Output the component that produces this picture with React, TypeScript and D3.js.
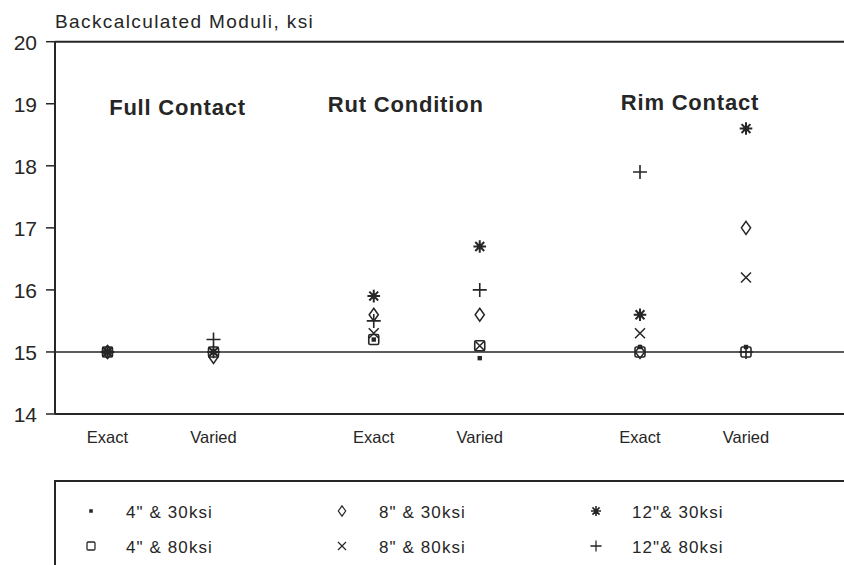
import React from "react";
import * as d3 from "d3";

const groups = ["Full Contact", "Rut Condition", "Rim Contact"];
const conditions = ["Exact", "Varied"];
const yTicks = [14, 15, 16, 17, 18, 19, 20];
const yTitle = "Backcalculated Moduli, ksi";

// values per (group, condition): FC-Exact, FC-Varied, Rut-Exact, Rut-Varied, Rim-Exact, Rim-Varied
const s4_30 = [15.0, 15.0, 15.2, 14.9, 15.08, 15.08];
const s4_80 = [15.0, 15.0, 15.2, 15.1, 15.0, 15.0];
const s8_30 = [15.0, 14.92, 15.6, 15.6, 15.0, 17.0];
const s8_80 = [15.0, 15.0, 15.3, 15.1, 15.3, 16.2];
const s12_30 = [15.0, 15.0, 15.9, 16.7, 15.6, 18.6];
const s12_80 = [15.0, 15.2, 15.5, 16.0, 17.9, 15.0];

const seriesNames = ['4" & 30ksi', '4" & 80ksi', '8" & 30ksi', '8" & 80ksi', '12"& 30ksi', '12"& 80ksi'];
const seriesShapes = ["dot", "square", "diamond", "cross", "asterisk", "plus"];
const seriesValues = [s4_30, s4_80, s8_30, s8_80, s12_30, s12_80];

const INK = "#262626";
const FONT = "'Liberation Sans', Arial, Helvetica, sans-serif";

function Marker({ shape, x, y, s = 1 }: { shape: string; x: number; y: number; s?: number }) {
  const t = `translate(${x},${y}) scale(${s})`;
  if (shape === "dot") return <rect transform={t} x={-2.2} y={-2.2} width={4.4} height={4.4} fill={INK} />;
  if (shape === "square")
    return <rect transform={t} x={-5} y={-5} width={10} height={10} rx={1.5} fill="none" stroke={INK} strokeWidth={1.6} />;
  if (shape === "diamond")
    return <path transform={t} d="M0,-6.5L4.6,0L0,6.5L-4.6,0Z" fill="none" stroke={INK} strokeWidth={1.5} />;
  if (shape === "cross")
    return <path transform={t} d="M-5,-5L5,5M5,-5L-5,5" fill="none" stroke={INK} strokeWidth={1.5} />;
  if (shape === "plus")
    return <path transform={t} d="M-7,0L7,0M0,-7L0,7" fill="none" stroke={INK} strokeWidth={1.6} />;
  // asterisk: 8 spokes
  const r = 6.3;
  const d = d3
    .range(4)
    .map((i) => {
      const a = (i * Math.PI) / 4;
      const dx = r * Math.sin(a);
      const dy = r * Math.cos(a);
      return `M${-dx},${-dy}L${dx},${dy}`;
    })
    .join("");
  return (
    <g transform={t}>
      <path d={d} fill="none" stroke={INK} strokeWidth={2} />
      <circle r={2.6} fill={INK} />
    </g>
  );
}

export default function App() {
  const W = 844;
  const H = 565;
  const axisX = 55;
  const y = d3.scaleLinear().domain([14, 20]).range([414, 41.7]);
  const xGroup = d3.scalePoint<string>().domain(groups).range([160.5, 693]);
  const xCond = d3.scalePoint<string>().domain(conditions).range([-53, 53]);
  const titleDx = [17, -21, -3];
  const titleY = [115, 112, 110];

  const cats = groups.flatMap((g) => conditions.map((c) => ({ g, c, x: (xGroup(g) as number) + (xCond(c) as number) })));

  const legendColX = [91, 342, 596];
  const legendTextX = [126, 379, 632];
  const legendRowY = [512, 547];

  return (
    <svg width={W} height={H} style={{ position: "absolute", left: 0, top: 0, background: "#fff" }} fontFamily={FONT}>
      <rect width={W} height={H} fill="#fff" />
      {/* y axis title */}
      <text x={55} y={28} fontSize={19} letterSpacing={1.4} fill={INK}>
        {yTitle}
      </text>
      {/* frame lines */}
      <line x1={axisX} x2={W} y1={y(20)} y2={y(20)} stroke={INK} strokeWidth={2} />
      <line x1={axisX} x2={W} y1={y(14)} y2={y(14)} stroke={INK} strokeWidth={2} />
      <line x1={axisX} x2={axisX} y1={y(20)} y2={y(14)} stroke={INK} strokeWidth={2} />
      <line x1={axisX} x2={W} y1={y(15)} y2={y(15)} stroke={INK} strokeWidth={1.6} />
      {/* ticks */}
      {yTicks.map((v) => (
        <g key={v}>
          <line x1={axisX - 9} x2={axisX} y1={y(v)} y2={y(v)} stroke={INK} strokeWidth={1.5} />
          <text x={37} y={y(v) + 8} textAnchor="end" fontSize={21} fill={INK}>
            {v}
          </text>
        </g>
      ))}
      {/* group titles */}
      {groups.map((g, i) => (
        <text
          key={g}
          x={(xGroup(g) as number) + titleDx[i]}
          y={titleY[i]}
          textAnchor="middle"
          fontSize={22}
          fontWeight="bold"
          letterSpacing={0.8}
          fill={INK}
        >
          {g}
        </text>
      ))}
      {/* x labels */}
      {cats.map((c, i) => (
        <text key={i} x={c.x} y={443} textAnchor="middle" fontSize={16.5} fill={INK}>
          {c.c}
        </text>
      ))}
      {/* markers */}
      {seriesValues.map((vals, si) =>
        vals.map((v, ci) => <Marker key={`${si}-${ci}`} shape={seriesShapes[si]} x={cats[ci].x} y={y(v)} />)
      )}
      {/* legend */}
      <rect x={55} y={481} width={W} height={200} fill="none" stroke={INK} strokeWidth={2} />
      {seriesNames.map((name, i) => {
        const col = Math.floor(i / 2);
        const row = i % 2;
        return (
          <g key={name}>
            <Marker shape={seriesShapes[i]} x={legendColX[col]} y={legendRowY[row] - 1} s={0.8} />
            <text x={legendTextX[col]} y={legendRowY[row] + 6} fontSize={17} letterSpacing={1.1} fill={INK}>
              {name}
            </text>
          </g>
        );
      })}
    </svg>
  );
}
